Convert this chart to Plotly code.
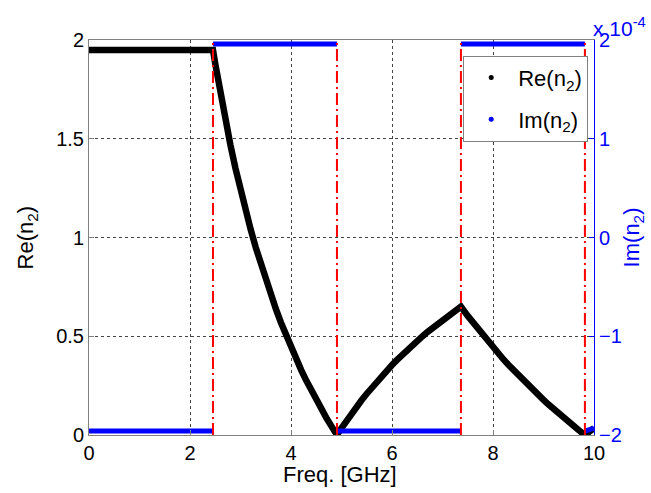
import plotly.graph_objects as go

# ---- data ----
freq = [0.0, 0.5, 1.0, 1.5, 2.0, 2.455, 2.5, 2.6, 2.7, 2.8, 2.9, 3.0, 3.1, 3.2, 3.3,
        3.4, 3.5, 3.6, 3.7, 3.8, 3.9, 4.0, 4.1, 4.2, 4.3, 4.4, 4.5, 4.6, 4.7, 4.8,
        4.91, 5.0, 5.1, 5.2, 5.3, 5.4, 5.5, 5.6, 5.7, 5.8, 5.9, 6.0, 6.1, 6.2, 6.3,
        6.4, 6.5, 6.6, 6.7, 6.8, 6.9, 7.0, 7.1, 7.2, 7.3, 7.365, 7.5, 7.6, 7.7, 7.8,
        7.9, 8.0, 8.1, 8.2, 8.3, 8.4, 8.5, 8.6, 8.7, 8.8, 8.9, 9.0, 9.1, 9.2, 9.3,
        9.4, 9.5, 9.6, 9.7, 9.82, 9.9, 10.0]
re_n2 = [1.95, 1.95, 1.95, 1.95, 1.95, 1.95, 1.880, 1.733, 1.596, 1.469, 1.351, 1.241,
         1.139, 1.042, 0.951, 0.866, 0.786, 0.710, 0.638, 0.570, 0.505, 0.444, 0.385,
         0.330, 0.277, 0.226, 0.178, 0.131, 0.087, 0.045,
         0.0, 0.035, 0.073, 0.109, 0.143, 0.177, 0.209, 0.240, 0.270, 0.299, 0.327,
         0.354, 0.380, 0.406, 0.430, 0.454, 0.477, 0.499, 0.521, 0.542, 0.562, 0.582,
         0.602, 0.620, 0.638, 0.650, 0.603, 0.570, 0.537, 0.505, 0.474, 0.444, 0.414,
         0.385, 0.357, 0.330, 0.303, 0.277, 0.251, 0.226, 0.202, 0.178, 0.154, 0.131,
         0.109, 0.087, 0.066, 0.045, 0.024, 0.0, 0.016, 0.035]

# Im(n2) in units of 1e-4, piecewise segments (None = break)
im_freq = [0.0, 2.455, None, 2.455, 4.91, None, 4.91, 7.365, None, 7.365, 9.82, None, 9.82, 10.0]
im_n2 = [-1.96, -1.96, None, 1.96, 1.96, None, -1.96, -1.96, None, 1.96, 1.96, None, -1.96, -1.93]

band_edges = [2.455, 4.91, 7.365, 9.82]

FONT = "Liberation Sans, Arial, sans-serif"
BLUE = "#0000FF"

fig = go.Figure()

fig.add_trace(go.Scatter(x=im_freq, y=im_n2, mode="lines", yaxis="y2",
                         line=dict(color=BLUE, width=5), showlegend=False))
fig.add_trace(go.Scatter(x=freq, y=re_n2, mode="lines",
                         line=dict(color="black", width=6.5), showlegend=False))

# legend-only entries (dot markers)
fig.add_trace(go.Scatter(x=[None], y=[None], mode="markers", name="Re(n<sub>2</sub>)",
                         marker=dict(color="black", size=5), legendgroup="a"))
fig.add_trace(go.Scatter(x=[None], y=[None], mode="markers", name="Im(n<sub>2</sub>)",
                         marker=dict(color=BLUE, size=5), legendgroup="b"))

for xe in band_edges:
    fig.add_shape(type="line", x0=xe, x1=xe, y0=0, y1=2, xref="x", yref="y",
                  line=dict(color="red", width=2, dash="12px,4px,2px,4px"), layer="above")

fig.update_layout(
    width=651, height=493,
    margin=dict(l=89, r=57, t=40, b=58),
    paper_bgcolor="white", plot_bgcolor="white",
    font=dict(family=FONT, size=20, color="black"),
    xaxis=dict(range=[0, 10], tickvals=[0, 2, 4, 6, 8, 10], ticks="inside", ticklen=5,
               tickcolor="#808080", showline=True, linecolor="#808080", mirror=True,
               showgrid=True, gridcolor="#444444", griddash="dot", gridwidth=1,
               zeroline=False, tickfont=dict(size=20)),
    yaxis=dict(range=[0, 2], tickvals=[0, 0.5, 1, 1.5, 2], ticktext=["0", "0.5", "1", "1.5", "2"],
               ticks="inside", ticklen=5, tickcolor="#808080", showline=True, linecolor="#808080",
               showgrid=True, gridcolor="#444444", griddash="dot", gridwidth=1,
               zeroline=False, tickfont=dict(size=20)),
    yaxis2=dict(range=[-2, 2], tickvals=[-2, -1, 0, 1, 2], overlaying="y", side="right",
                ticks="inside", ticklen=5, tickcolor=BLUE, showline=True, linecolor=BLUE,
                showgrid=False, zeroline=False, tickfont=dict(size=20, color=BLUE)),
    legend=dict(x=0.741, xanchor="left", y=0.96, yanchor="top", bgcolor="white",
                bordercolor="#808080", borderwidth=1, tracegroupgap=10,
                font=dict(size=22), itemwidth=44),
    annotations=[
        dict(text="Freq. [GHz]", xref="paper", yref="paper", x=0.497, y=-0.099,
             showarrow=False, xanchor="center", yanchor="middle", font=dict(size=22)),
        dict(text="Re(n<sub>2</sub>)", xref="paper", yref="paper", x=-0.123, y=0.5,
             showarrow=False, textangle=-90, xanchor="center", yanchor="middle",
             font=dict(size=22)),
        dict(text="Im(n<sub>2</sub>)", xref="paper", yref="paper", x=1.077, y=0.5,
             showarrow=False, textangle=-90, xanchor="center", yanchor="middle",
             font=dict(size=22, color=BLUE)),
        dict(text="x 10<sup>-4</sup>", xref="paper", yref="paper", x=1.0, y=1.0,
             showarrow=False, xanchor="left", yanchor="bottom", xshift=-3, yshift=-2,
             font=dict(size=21, color=BLUE)),
    ],
)

fig.write_html("out.html", config={"displayModeBar": False},
               post_script="document.body.style.margin='0';")
